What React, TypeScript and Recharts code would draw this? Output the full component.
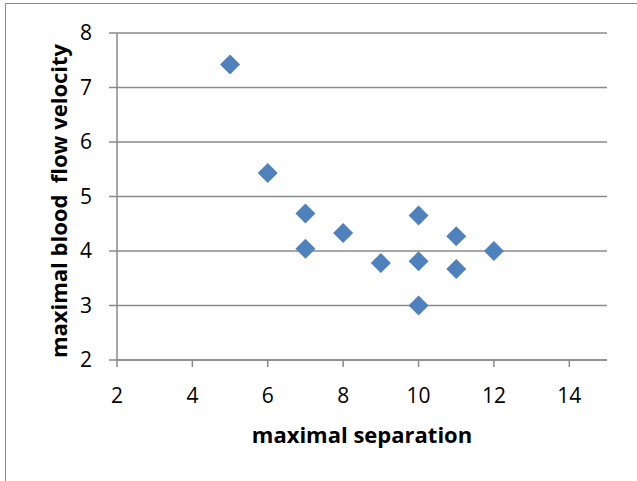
import React from 'react';
import { ScatterChart, Scatter, XAxis, YAxis, CartesianGrid, Label } from 'recharts';

const separation = [5, 6, 7, 7, 8, 9, 10, 10, 10, 11, 11, 12];
const velocity = [7.42, 5.43, 4.69, 4.04, 4.33, 3.78, 4.65, 3.81, 3.0, 4.27, 3.67, 4.0];
const xTicks = [2, 4, 6, 8, 10, 12, 14];
const yTicks = [2, 3, 4, 5, 6, 7, 8];

const points = separation.map((x, i) => ({ x, y: velocity[i] }));

const FONT = '"Open Sans", sans-serif';
const GRID = '#8a8a8a';

const Diamond = (props: any) => {
  const { cx, cy } = props;
  const r = 10;
  return (
    <polygon
      points={`${cx},${cy - r} ${cx + r},${cy} ${cx},${cy + r} ${cx - r},${cy}`}
      fill="#4f81bd"
    />
  );
};

export default function App() {
  return (
    <div style={{ position: 'absolute', left: 0, top: 0, width: 637, height: 481, overflow: 'hidden', background: '#fff' }}>
      <div
        style={{
          position: 'absolute',
          left: 5,
          top: 3,
          width: 660,
          height: 500,
          border: `1.5px solid ${GRID}`,
        }}
      />
      <div style={{ position: 'absolute', left: 0, top: 0 }}>
        <ScatterChart width={637} height={481} margin={{ top: 33, right: 30, bottom: 0, left: 0 }}>
          <CartesianGrid vertical={false} stroke={GRID} strokeWidth={1.5} />
          <XAxis
            type="number"
            dataKey="x"
            domain={[2, 15]}
            ticks={xTicks}
            height={121}
            tickSize={7}
            tickMargin={21}
            axisLine={{ stroke: GRID, strokeWidth: 1.5 }}
            tickLine={{ stroke: GRID, strokeWidth: 1.5 }}
            tick={{ fill: '#000', fontSize: 21, fontFamily: FONT }}
          >
            <Label
              value="maximal separation"
              position="insideTop"
              offset={67}
              style={{ fill: '#000', fontSize: 22, fontWeight: 'bold', fontFamily: FONT }}
            />
          </XAxis>
          <YAxis
            type="number"
            dataKey="y"
            domain={[2, 8]}
            ticks={yTicks}
            width={117}
            tickSize={8}
            tickMargin={17}
            axisLine={{ stroke: GRID, strokeWidth: 1.5 }}
            tickLine={{ stroke: GRID, strokeWidth: 1.5 }}
            tick={{ fill: '#000', fontSize: 21, fontFamily: FONT }}
          >
            <Label
              content={() => (
                <text
                  x={67}
                  y={201}
                  transform="rotate(-90 67 201)"
                  textAnchor="middle"
                  style={{ fill: '#000', fontSize: 22, fontWeight: 'bold', fontFamily: FONT, whiteSpace: 'pre' }}
                >
                  {'maximal blood  flow velocity'}
                </text>
              )}
            />
          </YAxis>
          <Scatter data={points} shape={<Diamond />} isAnimationActive={false} />
        </ScatterChart>
      </div>
    </div>
  );
}
